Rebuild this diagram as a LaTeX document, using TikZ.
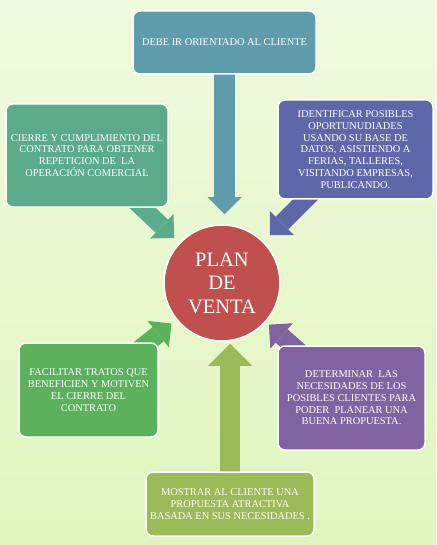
\documentclass[tikz,border=0pt]{standalone}
\usepackage{fontspec}
\setmainfont{Liberation Serif}
\usetikzlibrary{arrows.meta, calc}
\pgfdeclarelayer{background}
\pgfsetlayers{background,main}

\definecolor{orientblue}{RGB}{96,157,172}
\definecolor{cierregreen}{RGB}{92,172,139}
\definecolor{identblue}{RGB}{94,104,168}
\definecolor{facilgreen}{RGB}{92,178,92}
\definecolor{determpurple}{RGB}{128,99,161}
\definecolor{mostrarolive}{RGB}{155,187,89}
\definecolor{planred}{RGB}{192,80,77}
\definecolor{bgtop}{RGB}{240,250,222}
\definecolor{bgbottom}{RGB}{224,246,190}

\begin{document}
\begin{tikzpicture}[
    x=1pt, y=-1pt,
    base/.style={draw=white, line width=1.5pt, rounded corners=7pt, align=center, text=white, inner sep=2pt, font=\fontsize{10.4}{11.8}\selectfont},
    plan_node/.style={circle, draw=white, line width=1.5pt, fill=planred, minimum size=116pt, inner sep=0pt, align=center, text=white, font=\fontsize{20.5}{23.5}\selectfont},
    blockarrow/.style={line width=18pt, -{Triangle[width=34pt, length=17pt, line width=0pt]}}
]
    \useasboundingbox (0,0) rectangle (436,545);

    \node[base, fill=orientblue, minimum width=183pt, minimum height=63pt] (orient) at (224.5,42.5) {DEBE IR ORIENTADO AL CLIENTE};
    \node[base, fill=cierregreen, minimum width=162pt, minimum height=103pt] (cierre) at (87,155.5) {CIERRE Y CUMPLIMIENTO DEL\\CONTRATO PARA OBTENER\\REPETICION DE\ \ LA\\OPERACIÓN COMERCIAL};
    \node[base, fill=identblue, minimum width=155pt, minimum height=99pt] (ident) at (355.5,149.5) {IDENTIFICAR POSIBLES\\OPORTUNUDIADES\\USANDO SU BASE DE\\DATOS, ASISTIENDO A\\FERIAS, TALLERES,\\VISITANDO EMPRESAS,\\PUBLICANDO.};
    \node[base, fill=facilgreen, minimum width=139pt, minimum height=94pt] (facil) at (88.5,390) {FACILITAR TRATOS QUE\\BENEFICIEN Y MOTIVEN\\EL CIERRE DEL\\CONTRATO};
    \node[base, fill=determpurple, minimum width=147pt, minimum height=104pt] (determ) at (351.5,398) {DETERMINAR\ \ LAS\\NECESIDADES DE LOS\\POSIBLES CLIENTES PARA\\PODER\ \ PLANEAR UNA\\BUENA PROPUESTA.};
    \node[base, fill=mostrarolive, minimum width=168pt, minimum height=64pt] (mostrar) at (230,504) {MOSTRAR AL CLIENTE UNA\\PROPUESTA ATRACTIVA\\BASADA EN SUS NECESIDADES .};
    \node[plan_node] (plan) at (222,283) {PLAN\\DE\\VENTA};

    \begin{pgfonlayer}{background}
        \fill[top color=bgtop, bottom color=bgbottom] (0,0) rectangle (436,545);
        \draw[blockarrow, orientblue, line width=21pt, shorten >=10pt] (orient.center) -- (orient.center |- plan.north);
        \draw[blockarrow, cierregreen, shorten >=7pt] (cierre.center) -- (plan);
        \draw[blockarrow, identblue, shorten >=9pt] (ident.center) -- (plan);
        \draw[blockarrow, facilgreen, shorten >=6pt] (facil.center) -- (plan);
        \draw[blockarrow, determpurple, shorten >=4pt] (determ.center) -- (plan);
        \draw[blockarrow, mostrarolive, line width=20pt, -{Triangle[width=44pt, length=22pt, line width=0pt]}, shorten >=2pt] (mostrar.center) -- (mostrar.center |- plan.south);
    \end{pgfonlayer}
\end{tikzpicture}
\end{document}
